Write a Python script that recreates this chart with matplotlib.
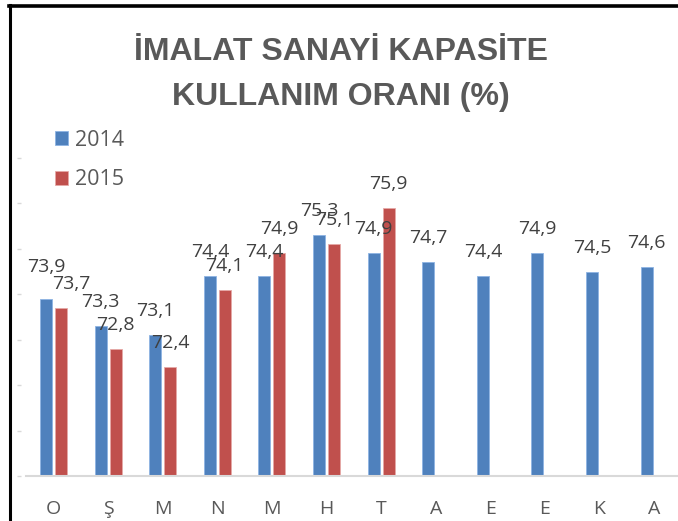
import numpy as np
import matplotlib.pyplot as plt
from matplotlib.lines import Line2D

# Data
months = ['O', 'Ş', 'M', 'N', 'M', 'H', 'T', 'A', 'E', 'E', 'K', 'A']
y2014 = [73.9, 73.3, 73.1, 74.4, 74.4, 75.3, 74.9, 74.7, 74.4, 74.9, 74.5, 74.6]
y2015 = [73.7, 72.8, 72.4, 74.1, 74.9, 75.1, 75.9]

blue = '#4f81bd'
red = '#c0504d'
txt = '#404040'
grey = '#595959'
font = ['Open Sans', 'DejaVu Sans']

W, H = 678, 521
fig = plt.figure(figsize=(W / 100, H / 100), dpi=100)

# axes runs a bit past the right edge, like the cropped original
left, right, bottom, top = 26.2, 681.4, 476, 158
ax = fig.add_axes([left / W, (H - bottom) / H, (right - left) / W, (bottom - top) / H])

x = np.arange(len(months))
bw = 0.22
off = 0.137
b1 = ax.bar(x - off, y2014, bw, color=blue, edgecolor='#8eb4e3', linewidth=0.6, zorder=2)
b2 = ax.bar(x[:len(y2015)] + off, y2015, bw, color=red, edgecolor='#e6a9a7', linewidth=0.6, zorder=2)

ax.set_xlim(-0.5, len(months) - 0.5)
ax.set_ylim(70, 77)
ax.set_yticks(range(70, 78))
ax.set_yticklabels([])
ax.tick_params(axis='y', length=3, width=1, color='#d9d9d9', pad=0)
ax.tick_params(axis='x', length=0, pad=17)
ax.set_xticks(x)
ax.set_xticklabels(months, fontsize=14, color=grey, family=font)
for s in ['top', 'right', 'left']:
    ax.spines[s].set_visible(False)
ax.spines['left'].set_position(('outward', 4))
ax.spines['bottom'].set_color('#d9d9d9')
ax.spines['bottom'].set_linewidth(1.5)

# data labels (a couple were nudged by hand in the original)
nudge = {(0, 0): (0, 8), (1, 0): (10, 0)}
for si, (bars, vals) in enumerate([(b1, y2014), (b2, y2015)]):
    for i, (b, v) in enumerate(zip(bars, vals)):
        dx, dy = nudge.get((si, i), (0, 0))
        ax.annotate(f'{v:.1f}'.replace('.', ','),
                    (b.get_x() + b.get_width() / 2, v),
                    xytext=(dx * 0.72, (15 + dy) * 0.72), textcoords='offset points',
                    ha='center', va='bottom', fontsize=14, color=txt, family=font)

# legend
leg = fig.legend([b1, b2], ['2014', '2015'], loc='upper left',
                 bbox_to_anchor=(55 / W, (H - 130) / H), frameon=False,
                 borderpad=0, borderaxespad=0, handlelength=0.62, handleheight=0.62,
                 handletextpad=0.3, labelspacing=0.85,
                 prop={'family': font, 'size': 15.5})
for t in leg.get_texts():
    t.set_color(grey)

# title
tfont = ['Liberation Sans', 'DejaVu Sans']
fig.text(341 / W, 1 - 52 / H, 'İMALAT SANAYİ KAPASİTE', ha='center', va='center',
         fontsize=23, fontweight='bold', color=grey, family=tfont)
fig.text(341 / W, 1 - 97 / H, 'KULLANIM ORANI (%)', ha='center', va='center',
         fontsize=23, fontweight='bold', color=grey, family=tfont)

# frame lines of the cropped chart
fig.add_artist(Line2D([9.5 / W, 9.5 / W], [0, 1 - 5 / H], color='black', lw=2.2))
fig.add_artist(Line2D([8.5 / W, 1], [1 - 6 / H, 1 - 6 / H], color='black', lw=2.6))

fig.savefig('out.png', dpi=100)
